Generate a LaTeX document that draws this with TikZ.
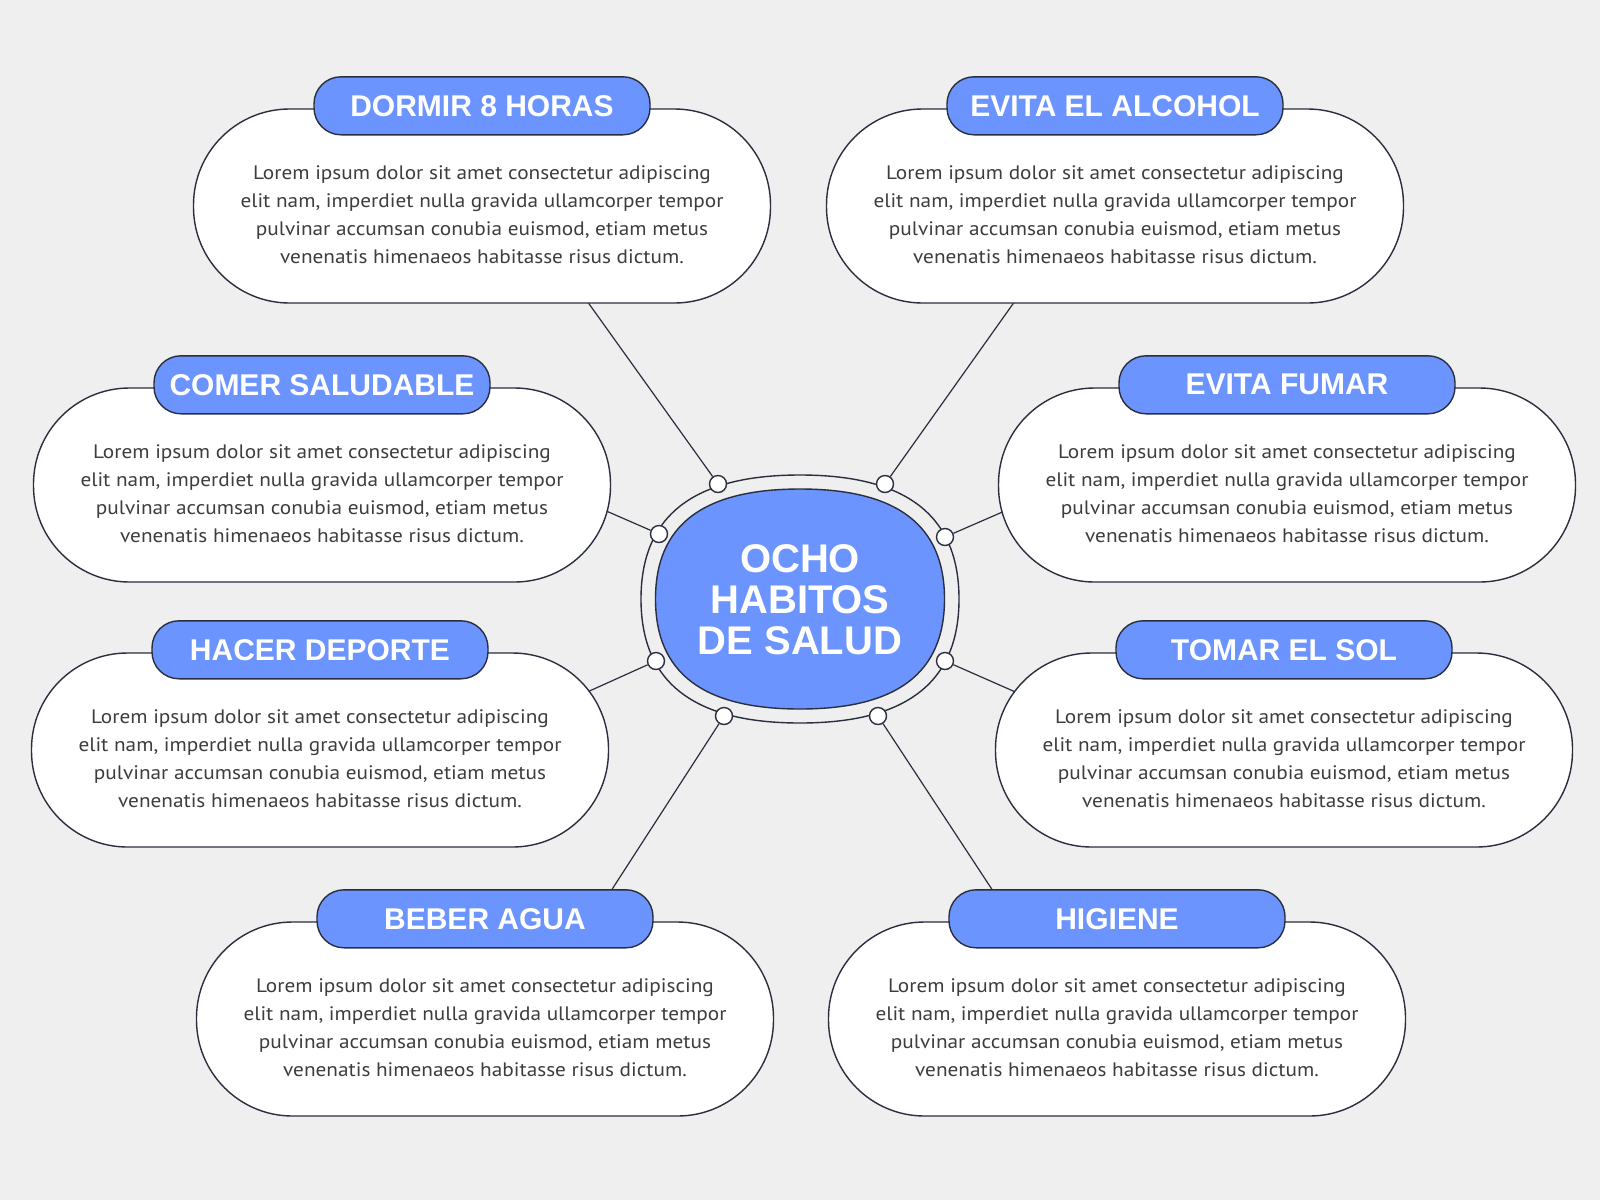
\documentclass[tikz,border=0pt]{standalone}
\usepackage{fontspec}
\setmainfont{Liberation Sans}
\newfontfamily\bodyfont[FakeStretch=1.09]{PT Sans}
\definecolor{bgc}{HTML}{EFEFEF}
\definecolor{cblue}{HTML}{6B94FE}
\definecolor{edge}{HTML}{2A2E3F}
\definecolor{txt}{HTML}{3D3D3D}
\newcommand\loremtxt{Lorem ipsum dolor sit amet consectetur adipiscing\\elit nam, imperdiet nulla gravida ullamcorper tempor\\pulvinar accumsan conubia euismod, etiam metus\\venenatis himenaeos habitasse risus dictum.}
\begin{document}
\begin{tikzpicture}[x=1pt,y=-1pt,
  bodybox/.style={draw=edge, line width=1.4pt, fill=white, rounded corners=96pt, minimum width=577pt, minimum height=194pt, inner sep=0pt},
  labelbox/.style={draw=edge, line width=1.4pt, fill=cblue, rounded corners=27pt, minimum width=336pt, minimum height=58pt, inner sep=0pt, text=white, font=\bfseries\fontsize{30}{30}\selectfont},
  bodytext/.style={align=center, text=txt, inner sep=0pt, font=\bodyfont\fontsize{19.5}{27.9}\selectfont},
  dot/.style={circle, draw=edge, fill=white, line width=1.4pt, minimum size=17pt, inner sep=0pt},
  link/.style={draw=edge, line width=1.2pt},
  ring/.style={draw=edge, line width=1.4pt}
]
\fill[bgc] (0,0) rectangle (1600,1200);
\useasboundingbox (0,0) rectangle (1600,1200);

% outer ring
\path[ring] (959,599) .. controls (959,516) and (907,475) .. (800,475)
  .. controls (693,475) and (641,516) .. (641,599)
  .. controls (641,682) and (693,723) .. (800,723)
  .. controls (907,723) and (959,682) .. cycle;
% central shape
\path[draw=edge, line width=1.4pt, fill=cblue] (944.5,599) .. controls (944.5,525) and (897,489) .. (800,489)
  .. controls (703,489) and (655.5,525) .. (655.5,599)
  .. controls (655.5,673) and (703,709) .. (800,709)
  .. controls (897,709) and (944.5,673) .. cycle;
\node[font=\bfseries\fontsize{40}{41}\selectfont, text=white, align=center, inner sep=0pt] (title) at (800,600) {OCHO\\HABITOS\\DE SALUD};

% dots on the ring
\node[dot] (c1) at (718,484) {};
\node[dot] (c2) at (885,484) {};
\node[dot] (c3) at (659,534) {};
\node[dot] (c4) at (945,537) {};
\node[dot] (c5) at (656,661) {};
\node[dot] (c6) at (945,661) {};
\node[dot] (c7) at (724,716) {};
\node[dot] (c8) at (878,716) {};

% connector ends (hidden under the boxes)
\coordinate (e1) at (587,301);
\coordinate (e2) at (1015,301);
\coordinate (e3) at (604,510);
\coordinate (e4) at (1007,510);
\coordinate (e5) at (585,693);
\coordinate (e6) at (1020,694);
\coordinate (e7) at (609,894);
\coordinate (e8) at (995,894);
\foreach \i in {1,...,8} {\draw[link] (c\i) -- (e\i);}

% boxes
\node[bodybox] (b1) at (482,206) {};
\node[bodybox] (b2) at (1115,206) {};
\node[bodybox] (b3) at (322,485) {};
\node[bodybox] (b4) at (1287,485) {};
\node[bodybox] (b5) at (320,750) {};
\node[bodybox] (b6) at (1284,750) {};
\node[bodybox] (b7) at (485,1019) {};
\node[bodybox] (b8) at (1117,1019) {};

\node[labelbox] (l1) at ([yshift=2.5pt]b1.north) {DORMIR 8 HORAS};
\node[labelbox] (l2) at ([yshift=2.5pt]b2.north) {EVITA EL ALCOHOL};
\node[labelbox] (l3) at ([yshift=2.5pt]b3.north) {COMER SALUDABLE};
\node[labelbox] (l4) at ([yshift=2.5pt]b4.north) {EVITA FUMAR};
\node[labelbox] (l5) at ([yshift=2.5pt]b5.north) {HACER DEPORTE};
\node[labelbox] (l6) at ([yshift=2.5pt]b6.north) {TOMAR EL SOL};
\node[labelbox] (l7) at ([yshift=2.5pt]b7.north) {BEBER AGUA};
\node[labelbox] (l8) at ([yshift=2.5pt]b8.north) {HIGIENE};

\foreach \i in {1,...,8} {\node[bodytext] (t\i) at ([yshift=-9pt]b\i.center) {\loremtxt};}
\end{tikzpicture}
\end{document}
